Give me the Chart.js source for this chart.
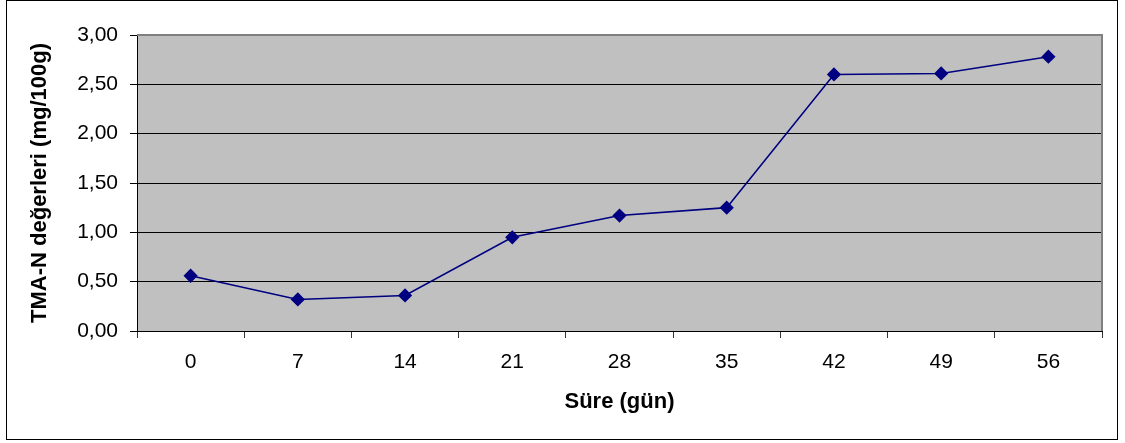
<!DOCTYPE html>
<html>
<head>
<meta charset="utf-8">
<script src="https://cdn.jsdelivr.net/npm/chart.js@4"></script>
<style>
  html, body { margin: 0; padding: 0; background: #fff; }
  canvas { display: block; }
</style>
</head>
<body>
<canvas id="tmaChart" width="1125" height="443"></canvas>
<script>
// days of storage and TMA-N values
const days = ['0', '7', '14', '21', '28', '35', '42', '49', '56'];
const tmaValues = [0.56, 0.32, 0.36, 0.95, 1.17, 1.25, 2.60, 2.61, 2.78];
const yTitle = 'TMA-N değerleri (mg/100g)';
const xTitle = 'Süre (gün)';

const fontFamily = '"Liberation Sans", Arial, sans-serif';

// gray plot area + frame around the whole picture
const plotBackground = {
  id: 'plotBackground',
  beforeDraw(chart) {
    const { ctx, chartArea: a } = chart;
    ctx.save();
    ctx.fillStyle = '#fff';
    ctx.fillRect(0, 0, chart.width, chart.height);
    ctx.fillStyle = '#c0c0c0';
    ctx.fillRect(a.left, a.top, a.right - a.left, a.bottom - a.top);
    ctx.restore();
  },
  beforeDatasetsDraw(chart) {
    const { ctx, chartArea: a } = chart;
    ctx.save();
    ctx.strokeStyle = '#808080';
    ctx.lineWidth = 2;
    ctx.beginPath();
    ctx.moveTo(a.left, a.top);
    ctx.lineTo(a.right, a.top);
    ctx.lineTo(a.right, a.bottom);
    ctx.stroke();
    ctx.restore();
  },
  afterDraw(chart) {
    const ctx = chart.ctx;
    ctx.save();
    ctx.strokeStyle = '#000';
    ctx.lineWidth = 1;
    ctx.strokeRect(6.5, 0.5, 1111, 439);
    ctx.restore();
  }
};

const ctx = document.getElementById('tmaChart').getContext('2d');
const chart = new Chart(ctx, {
  type: 'line',
  data: {
    labels: days,
    datasets: [{
      data: tmaValues,
      borderColor: '#000080',
      backgroundColor: '#000080',
      borderWidth: 1.6,
      tension: 0,
      pointStyle: 'rectRot',
      pointRadius: 6,
      pointHoverRadius: 6,
      pointBackgroundColor: '#000080',
      pointBorderColor: '#000080'
    }]
  },
  options: {
    responsive: false,
    animation: false,
    layout: {
      padding: { left: 0, right: 23, top: 35, bottom: 0 }
    },
    plugins: {
      legend: { display: false },
      tooltip: { enabled: false }
    },
    scales: {
      x: {
        offset: true,
        grid: {
          offset: true,
          drawOnChartArea: false,
          drawTicks: true,
          tickLength: 7,
          tickColor: '#333'
        },
        border: { color: '#000', width: 1 },
        ticks: {
          color: '#000',
          padding: 12,
          font: { family: fontFamily, size: 21 }
        },
        title: {
          display: true,
          text: xTitle,
          color: '#000',
          font: { family: fontFamily, size: 22, weight: 'bold', lineHeight: 1.2 },
          padding: { top: 0, bottom: 28 }
        },
        afterFit(scale) { scale.height = 112; }
      },
      y: {
        min: 0,
        max: 3,
        grid: {
          color: c => (c.tick && c.tick.value === 3 ? '#808080' : '#000'),
          lineWidth: 1,
          tickLength: 7,
          tickColor: '#000'
        },
        border: { color: '#000', width: 1 },
        ticks: {
          stepSize: 0.5,
          color: '#000',
          padding: 12,
          font: { family: fontFamily, size: 21 },
          callback: v => v.toFixed(2).replace('.', ',')
        },
        title: {
          display: true,
          text: yTitle,
          color: '#000',
          font: { family: fontFamily, size: 22, weight: 'bold', lineHeight: 1.2 },
          padding: { top: 27, bottom: 0 }
        },
        afterFit(scale) { scale.width = 137; }
      }
    }
  },
  plugins: [plotBackground]
});
</script>
</body>
</html>
